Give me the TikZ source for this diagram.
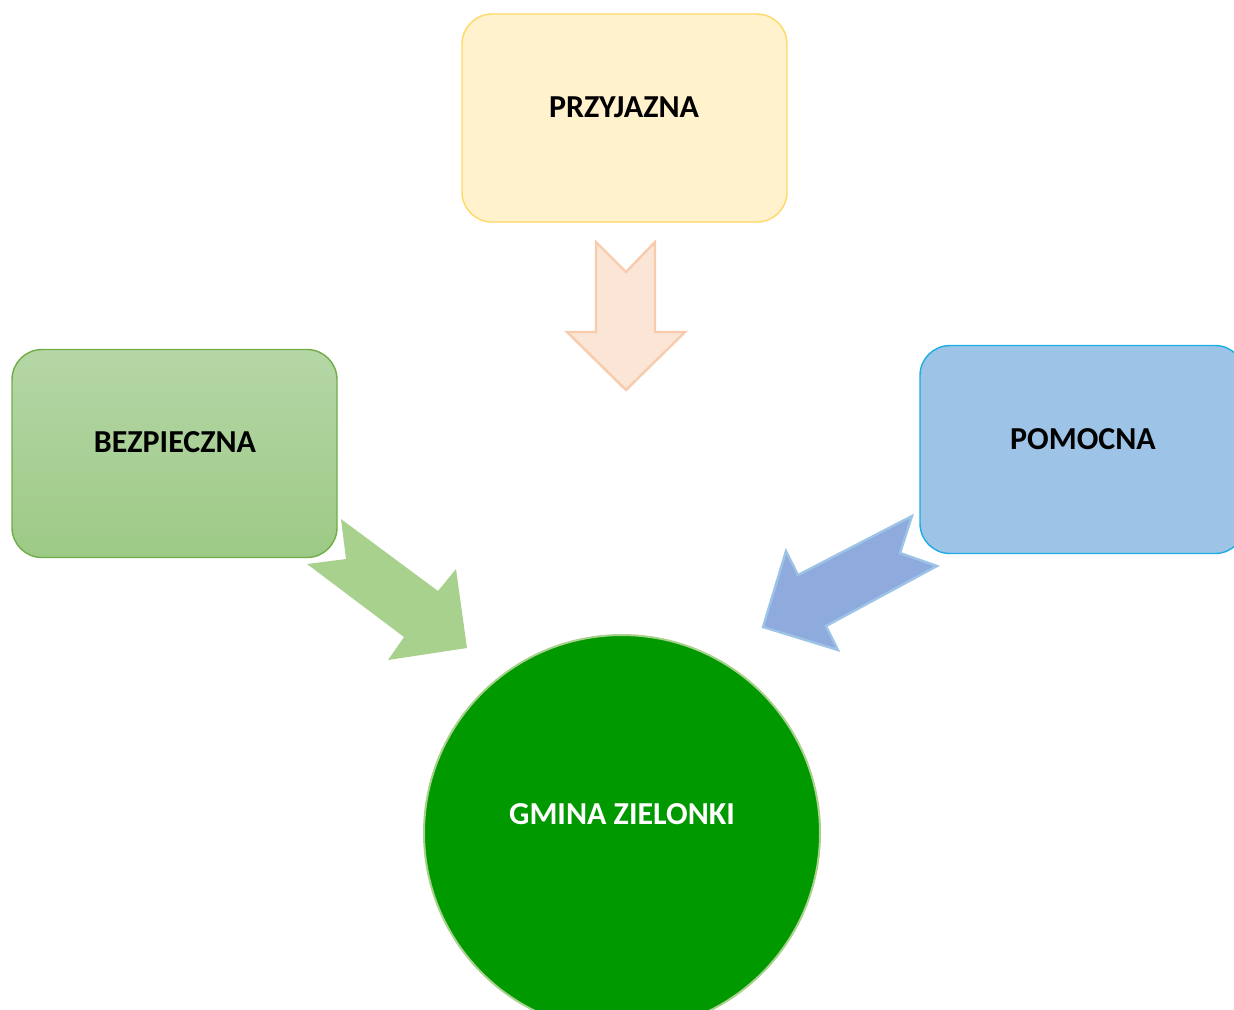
\documentclass[tikz,border=0pt]{standalone}
\usepackage{fontspec}
\setmainfont{Carlito}
\usetikzlibrary{positioning}

\definecolor{yellowfill}{HTML}{FFF2CC}
\definecolor{yellowline}{HTML}{FFD966}
\definecolor{peachfill}{HTML}{FBE5D6}
\definecolor{peachline}{HTML}{F8CBAD}
\definecolor{greentop}{HTML}{B5D6A6}
\definecolor{greenbottom}{HTML}{9DCA86}
\definecolor{greenline}{HTML}{70AD47}
\definecolor{greenarrow}{HTML}{A9D18E}
\definecolor{bluefill}{HTML}{9DC3E6}
\definecolor{blueline}{HTML}{1CADE4}
\definecolor{bluearrow}{HTML}{8FAADC}
\definecolor{gminafill}{HTML}{009900}

\tikzset{
  box/.style={rounded corners=15pt, minimum width=162.5pt, minimum height=104pt, line width=0.7pt},
  label text/.style={font=\fontsize{16}{19}\selectfont\bfseries, inner sep=0pt}
}

\begin{document}
\begin{tikzpicture}[x=0.5pt,y=-0.5pt]
  \clip (0,0) rectangle (1234,1009);

  % Boxes
  \node[box, draw=yellowline, fill=yellowfill] (przyjazna) at (624.5,118) {};
  \node[box, draw=greenline, top color=greentop, bottom color=greenbottom] (bezpieczna) at (174.5,453.5) {};
  \node[box, draw=blueline, fill=bluefill] (pomocna) at (1082.5,449.5) {};

  % Circle
  \node[circle, draw=greenarrow, fill=gminafill, line width=1pt, minimum size=198pt] (gmina) at (622,833) {};

  % Texts
  \node[label text] (przyjaznaText) at (624,107) {PRZYJAZNA};
  \node[label text] (bezpiecznaText) at (175,442) {BEZPIECZNA};
  \node[label text] (pomocnaText) at (1083,439) {POMOCNA};
  \node[label text, text=white] (gminaText) at (622,814) {GMINA ZIELONKI};

  % Arrow down
  \draw[fill=peachfill, draw=peachline, line width=1.2pt, line join=miter]
    (596,242) -- (626,272) -- (655,242) -- (655,332) -- (685,332)
    -- (626,390) -- (567,332) -- (596,332) -- cycle;

  % Arrow from the left
  \fill[greenarrow]
    (341,519) -- (438,591) -- (456,569) -- (467,648) -- (388,660)
    -- (404,637) -- (307,564) -- (346,559) -- cycle;

  % Arrow from the right
  \draw[fill=bluearrow, draw=bluefill, line width=1.2pt, line join=miter]
    (912,516) -- (900,553) -- (937,566) -- (826,626) -- (838,650)
    -- (763,627) -- (786,551) -- (798,575) -- cycle;
\end{tikzpicture}
\end{document}
